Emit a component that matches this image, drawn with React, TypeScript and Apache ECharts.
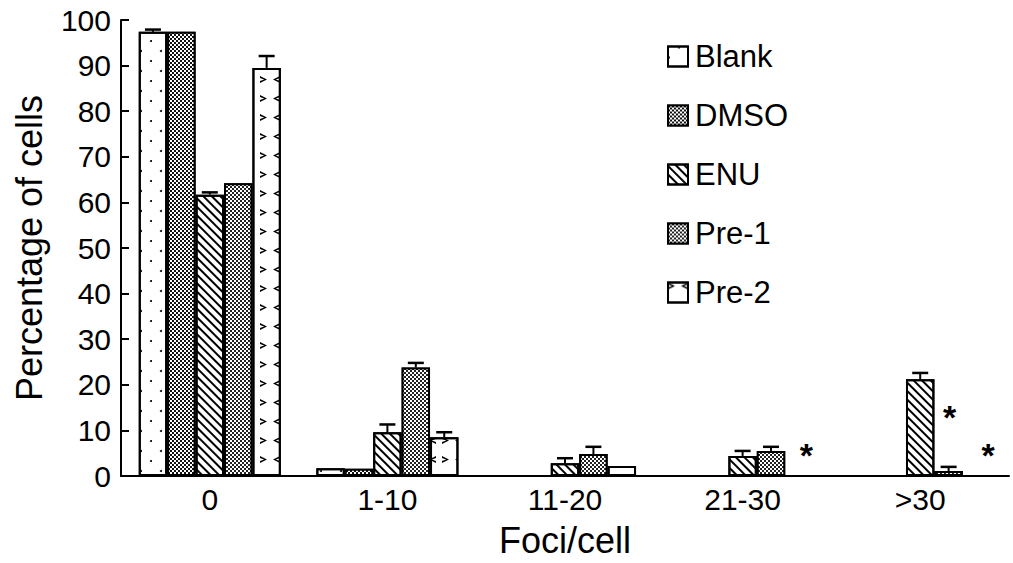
import React, { useEffect, useRef } from "react";
import * as echarts from "echarts";

const categories = ["0", "1-10", "11-20", "21-30", ">30"];
const seriesNames = ["Blank", "DMSO", "ENU", "Pre-1", "Pre-2"];
const blank = [97.4, 1.7, 0, 0, 0];
const dmso = [97.4, 1.6, 0, 0, 0];
const enu = [61.7, 9.6, 2.8, 4.4, 21.2];
const pre1 = [64.2, 23.8, 4.8, 5.5, 1.1];
const pre2 = [89.5, 8.5, 2.2, 0, 0];
const blankErr = [0.5, 0, 0, 0, 0];
const dmsoErr = [0, 0, 0, 0, 0];
const enuErr = [0.5, 1.7, 1.1, 1.1, 1.4];
const pre1Err = [0, 1.0, 1.6, 0.9, 0.9];
const pre2Err = [2.6, 1.1, 0, 0, 0];
// significance marks: [seriesIndex, categoryIndex]
const stars: [number, number][] = [
  [4, 3],
  [3, 4],
  [4, 4],
];

const FONT = "'Liberation Sans', Arial, Helvetica, sans-serif";

const decals: any[] = [
  {
    symbol: "circle",
    symbolSize: 1,
    color: "#000",
    dashArrayX: [[2, 18], [0, 10, 2, 8]],
    dashArrayY: [2, 8],
  },
  {
    symbol: "rect",
    symbolSize: 1,
    color: "#fff",
    dashArrayX: [[2, 2], [0, 2, 2, 0]],
    dashArrayY: [2, 0],
  },
  {
    symbol: "rect",
    symbolSize: 1,
    color: "#000",
    dashArrayX: [1, 0],
    dashArrayY: [2, 4],
    rotation: Math.PI / 4,
  },
  {
    symbol: "rect",
    symbolSize: 1,
    color: "#fff",
    dashArrayX: [[2, 2], [0, 2, 2, 0]],
    dashArrayY: [2, 0],
  },
  {
    symbol: [
      "path://M0,0L10,5L0,10L0,7L6,5L0,3Z",
      "path://M10,0L0,5L10,10L10,7L4,5L10,3Z",
    ],
    symbolSize: 1,
    color: "#000",
    dashArrayX: [[7, 6]],
    dashArrayY: [7, 12],
  },
];
const fills = ["#fff", "#111", "#fff", "#222", "#fff"];
const starOffsets: Record<string, number[]> = {
  "4-3": [7, 2],
  "3-4": [1, -32],
  "4-4": [11, 2],
};

export default function App() {
  const ref = useRef<HTMLDivElement>(null);
  useEffect(() => {
    if (!ref.current) return;
    const chart = echarts.init(ref.current, null, { renderer: "svg" });
    const values = [blank, dmso, enu, pre1, pre2];
    const errs = [blankErr, dmsoErr, enuErr, pre1Err, pre2Err];

    const barSeries = seriesNames.map((name, si) => ({
      name,
      type: "bar",
      barGap: "0%",
      barCategoryGap: "20%",
      itemStyle: {
        color: fills[si],
        borderColor: "#000",
        borderWidth: 2,
        decal: decals[si],
      },
      data: values[si].map((v, ci) => {
        const isStar = stars.some((s) => s[0] === si && s[1] === ci);
        if (!isStar) return v;
        return {
          value: v,
          label: {
            show: true,
            position: "top",
            formatter: "*",
            fontSize: 34,
            fontWeight: "bold",
            fontFamily: FONT,
            color: "#000",
            offset: starOffsets[si + "-" + ci],
          },
        };
      }),
    }));

    const errData: number[][] = [];
    errs.forEach((arr, si) =>
      arr.forEach((e, ci) => {
        if (e > 0) errData.push([ci, values[si][ci], e, si]);
      })
    );

    const option: any = {
      animation: false,
      textStyle: { fontFamily: FONT },
      grid: { left: 121, right: 4, top: 20, bottom: 87 },
      legend: {
        data: seriesNames,
        orient: "vertical",
        left: 662,
        top: 36,
        itemWidth: 20,
        itemHeight: 20,
        itemGap: 28,
        icon: "rect",
        textStyle: {
          fontSize: 31,
          lineHeight: 30,
          color: "#000",
          fontFamily: FONT,
          padding: [0, 0, 0, 2],
        },
      },
      xAxis: {
        type: "category",
        data: categories,
        name: "Foci/cell",
        nameLocation: "middle",
        nameGap: 46,
        nameTextStyle: { fontSize: 36, color: "#000", fontFamily: FONT },
        axisLine: { lineStyle: { color: "#000", width: 2 } },
        axisTick: { inside: true, length: 8, lineStyle: { color: "#000", width: 2 } },
        axisLabel: { fontSize: 30, color: "#000", margin: 8, fontFamily: FONT },
      },
      yAxis: {
        type: "value",
        min: 0,
        max: 100,
        interval: 10,
        name: "Percentage of cells",
        nameLocation: "middle",
        nameGap: 74,
        nameTextStyle: { fontSize: 36, color: "#000", fontFamily: FONT },
        axisLine: { show: true, lineStyle: { color: "#000", width: 2 } },
        axisTick: { show: true, inside: true, length: 8, lineStyle: { color: "#000", width: 2 } },
        axisLabel: { fontSize: 30, color: "#000", margin: 10, fontFamily: FONT },
        splitLine: { show: false },
      },
      series: [
        ...barSeries,
        {
          type: "custom",
          name: "err",
          z: 5,
          encode: { x: 0, y: 1 },
          data: errData,
          renderItem: (params: any, api: any) => {
            const cat = api.value(0);
            const val = api.value(1);
            const err = api.value(2);
            const si = api.value(3);
            const base = api.coord([cat, val]);
            const band = api.size([1, 0])[0];
            const bw = (band * 0.8) / 5;
            const cx = base[0] + (si - 2) * bw;
            const y2 = api.coord([cat, val + err])[1];
            return {
              type: "group",
              children: [
                {
                  type: "line",
                  shape: { x1: cx, y1: base[1], x2: cx, y2 },
                  style: { stroke: "#000", lineWidth: 2 },
                },
                {
                  type: "line",
                  shape: { x1: cx - 8, y1: y2, x2: cx + 8, y2 },
                  style: { stroke: "#000", lineWidth: 2.5 },
                },
              ],
            };
          },
        },
      ],
    };
    chart.setOption(option);
    return () => chart.dispose();
  }, []);
  return (
    <div
      ref={ref}
      style={{ position: "fixed", left: 0, top: 0, width: 1013, height: 563, background: "#fff" }}
    />
  );
}
